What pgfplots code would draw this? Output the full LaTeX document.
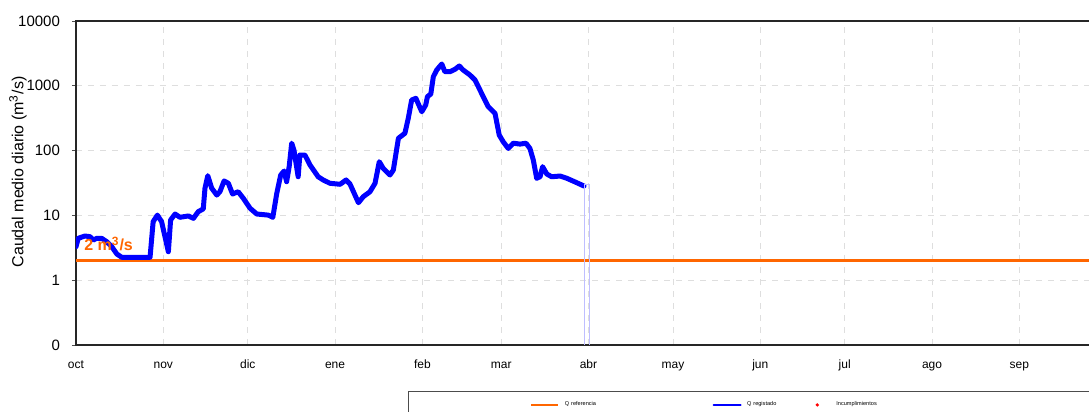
\documentclass[border=0pt]{standalone}
\usepackage{fontspec}
\setmainfont{Liberation Sans}
\usepackage{pgfplots}
\pgfplotsset{compat=1.18}
\definecolor{qref}{RGB}{255,102,0}
\definecolor{qreg}{RGB}{0,0,255}
\definecolor{gridc}{RGB}{222,222,222}

\begin{document}
\begin{tikzpicture}
\begin{axis}[
    at={(0,0)}, anchor=south west,
    scale only axis,
    width=513.9pt, height=162pt,
    xmin=0, xmax=365,
    ymode=log, ymin=0.1, ymax=10000,
    xtick={0,31,61,92,123,151,182,212,243,273,304,335},
    xticklabels={oct,nov,dic,ene,feb,mar,abr,may,jun,jul,ago,sep},
    ytick={0.1,1,10,100,1000,10000},
    yticklabels={0,1,10,100,1000,10000},
    yminorticks=false,
    tick pos=left,
    tick align=outside,
    major tick length=2pt,
    xtick style={draw=none},
    ytick style={black!70, line width=0.4pt},
    grid=major,
    major grid style={gridc, dashed, line width=0.4pt},
    axis line style={black!85, line width=0.6pt},
    xticklabel style={font=\fontsize{6}{7}\selectfont, yshift=-1.8pt,
        text height=4.4pt, text depth=1.2pt},
    yticklabel style={font=\fontsize{7.5}{9}\selectfont, xshift=-2.5pt},
    /pgf/number format/assume math mode=true,
    ylabel={Caudal medio diario (m\textsuperscript{3}/s)},
    every axis y label/.style={at={(axis description cs:-0.0564,0.534)},
        rotate=90, anchor=center, font=\fontsize{8}{9.6}\selectfont},
    legend columns=3,
    legend cell align=left,
    legend style={at={(axis description cs:0.4417,-0.185)}, anchor=west,
        draw=none, fill=none, inner sep=0pt,
        font=\fontsize{2.8}{3.4}\selectfont,
        column sep=2.5pt,
        nodes={inner sep=0.3pt}},
]
% Q referencia
\addplot[qref, line width=1.75pt,
    legend image code/.code={\draw[qref, line width=1pt] (0pt,0pt) -- (13.5pt,0pt);}]
    coordinates {(0,2) (365,2)};
\addlegendentry[text width=71pt]{Q referencia}
% Q registado (dias desde 1 oct)
\addplot[qreg, line width=2.5pt, line join=round, line cap=round,
    legend image code/.code={\draw[qreg, line width=1pt] (0pt,0pt) -- (13.5pt,0pt);}]
    coordinates {
    (0,3.29) (0.8,4.43) (3.2,4.81) (5.0,4.69) (6.1,4.17) (7.4,4.43) (9.1,4.43)
    (10.9,3.93) (12.7,3.29) (14.5,2.54) (16.2,2.26) (26.3,2.26) (27.4,8.0)
    (28.9,10.1) (30.4,8.0) (32.8,2.75) (33.6,8.5) (35.2,10.5) (36.9,9.35)
    (39.9,9.8) (41.7,9.0) (43.4,11.4) (45.2,12.6) (45.8,26.2) (46.8,41)
    (48.2,26.2) (50.0,20.6) (51.1,23.2) (52.6,34) (54.1,31.3) (55.6,21.4)
    (57.6,23.2) (59.4,18.4) (61.8,12.9) (64.2,10.5) (68.3,10.1) (69.9,9.35)
    (71.3,21.9) (72.7,42) (73.9,48.4) (74.8,33.1) (75.7,56.4) (76.6,130)
    (77.4,102) (78.9,39.5) (79.5,85.5) (81.3,85.5) (83.1,60) (86.0,39.5)
    (87.8,35.2) (90.2,31.3) (93.8,30.2) (95.9,35.2) (97.3,30.5) (100.3,15.7)
    (102.0,19.4) (104.4,23.2) (106.2,31.3) (107.7,67.4) (109.1,53.3)
    (111.5,42) (112.7,50.2) (114.5,155) (116.8,185) (118.0,315) (119.2,604)
    (120.7,641) (122.8,398) (124.2,506) (124.8,679) (126.0,747) (126.9,1381)
    (128.1,1753) (129.9,2170) (131.0,1650) (132.8,1650) (134.6,1798)
    (136.1,2022) (137.5,1753) (139.9,1468) (141.7,1230) (142.9,969)
    (144.6,679) (146.4,476) (148.8,376) (150.3,174) (151.7,137) (153.5,108)
    (155.3,130) (157.7,126) (159.8,130) (161.2,108) (162.4,71.6) (163.6,37.4)
    (164.8,39.5) (165.7,56.4) (167.2,43.5) (168.9,39.5) (171.9,40.5)
    (174.3,37.4) (177.8,32) (180.4,28.4)
    };
\addlegendentry[text width=25.5pt]{Q registado}
% caida al final del registro
\addplot[qreg!25, line width=0.4pt, forget plot]
    coordinates {(180.4,0.1) (180.4,30) (182.2,30) (182.2,0.1)};
\addlegendimage{legend image code/.code={\path[draw=none, fill=none] (0pt,0pt) -- (13.5pt,0pt);
    \fill[red, draw=none] (6.75pt,0pt) circle (0.9pt);}}
\addlegendentry{Incumplimientos}
\node[anchor=west, text=qref, inner sep=0pt,
    font=\bfseries\fontsize{8}{9.6}\selectfont] at (axis cs:2.8,3.62) {2 m\textsuperscript{3}/s};
\end{axis}
\draw[black!70, line width=0.5pt] (166pt,-23.5pt) rectangle (530pt,-50pt);
\pgfresetboundingbox
\path[use as bounding box] (-38pt,-33.5pt) rectangle (506.5pt,172.5pt);
\end{tikzpicture}
\end{document}
